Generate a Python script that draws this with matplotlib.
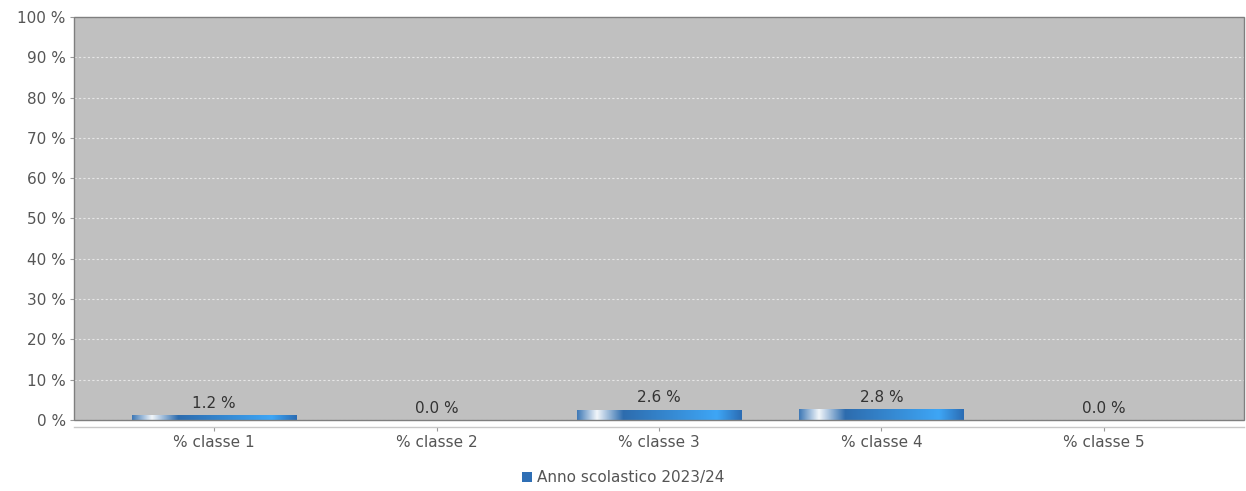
import matplotlib.pyplot as plt
import numpy as np
from matplotlib.colors import LinearSegmentedColormap
from matplotlib.patches import Rectangle, Patch

# dati
categorie = ["% classe 1", "% classe 2", "% classe 3", "% classe 4", "% classe 5"]
valori = [1.2, 0.0, 2.6, 2.8, 0.0]
serie = "Anno scolastico 2023/24"
yticks = list(range(0, 101, 10))

# sfumatura orizzontale delle barre (stile JFreeChart)
grad = LinearSegmentedColormap.from_list("barre", [
    (0.00, "#3f79b6"),
    (0.12, "#f2f6fa"),
    (0.28, "#2d6cae"),
    (0.85, "#3ea6f6"),
    (1.00, "#2b6cb3"),
])

fig = plt.figure(figsize=(12.46, 4.91), dpi=100)
ax = fig.add_axes([0.0594, 0.1446, 0.9390, 0.8208])
ax.set_facecolor("#c0c0c0")

x = np.arange(len(categorie))
bars = ax.bar(x, valori, width=0.74, color="none", edgecolor="none", zorder=3)

gvals = np.linspace(0, 1, 256).reshape(1, -1)
for b in bars:
    if b.get_height() <= 0:
        continue
    x0, w, h = b.get_x(), b.get_width(), b.get_height()
    im = ax.imshow(gvals, cmap=grad, extent=[x0, x0 + w, 0, h],
                   aspect="auto", zorder=3, interpolation="bilinear")
    im.set_clip_path(b)

for xi, v in zip(x, valori):
    ax.annotate(f"{v:.1f} %", (xi, v), xytext=(0, 3), textcoords="offset points",
                ha="center", va="bottom", fontsize=11, color="#333333")

ax.set_xlim(-0.63, len(categorie) - 1 + 0.63)
ax.set_ylim(0, 100)
ax.set_yticks(yticks)
ax.set_yticklabels([f"{t} %" for t in yticks])
ax.set_xticks(x)
ax.set_xticklabels(categorie)

ax.grid(axis="y", color="#e6e6e6", linestyle=(0, (2, 2)), linewidth=0.8, zorder=1)
ax.set_axisbelow(True)

for s in ["top", "right", "left"]:
    ax.spines[s].set_visible(False)
ax.spines["bottom"].set_position(("outward", 5))
ax.spines["bottom"].set_color("#c8c8c8")
ax.spines["bottom"].set_linewidth(1.0)
ax.add_patch(Rectangle((0, 0), 1, 1, transform=ax.transAxes, fill=False,
                       edgecolor="#7f7f7f", linewidth=1.0, zorder=5, clip_on=False))

ax.tick_params(axis="y", length=3, color="#999999", labelcolor="#555555",
               labelsize=11, pad=3, direction="out")
ax.tick_params(axis="x", length=3, color="#999999", labelcolor="#555555",
               labelsize=11, pad=3)

fig.legend(handles=[Patch(facecolor="#2f6fb5", edgecolor="none", label=serie)],
           loc="center", bbox_to_anchor=(0.5, 0.027), frameon=False,
           fontsize=11, handlelength=0.65, handleheight=0.65, handletextpad=0.3,
           labelcolor="#555555", borderpad=0)

plt.savefig("out.png", dpi=100)
